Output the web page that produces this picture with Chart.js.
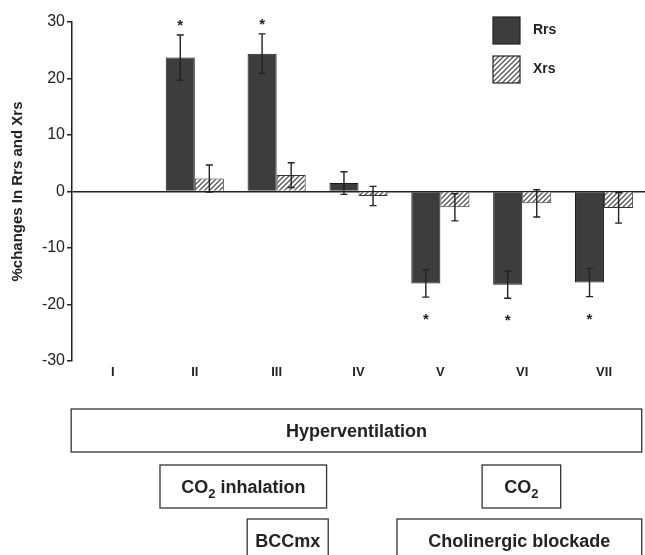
<!DOCTYPE html>
<html>
<head>
<meta charset="utf-8">
<script src="https://cdn.jsdelivr.net/npm/chart.js@4"></script>
<style>
  html, body { margin: 0; padding: 0; background: #fff; }
  #wrap { width: 645px; height: 555px; position: relative; }
</style>
</head>
<body>
<div id="wrap"><canvas id="chart" width="645" height="555"></canvas></div>
<script>
// conditions and values (% change)
const conditions = ['I', 'II', 'III', 'IV', 'V', 'VI', 'VII'];
const rrsValues = [0, 23.7, 24.4, 1.5, -16.3, -16.5, -16.1];
const rrsErrors = [0, 4.0, 3.5, 2.0, 2.4, 2.4, 2.5];
const xrsValues = [0, 2.3, 2.9, -0.8, -2.8, -2.1, -2.9];
const xrsErrors = [0, 2.4, 2.2, 1.7, 2.4, 2.4, 2.7];
const rrsSignificant = [false, true, true, false, true, true, true];
const yTicks = [-30, -20, -10, 0, 10, 20, 30];

// protocol boxes under the axis: label parts, start/end in category units, row
const protocolBoxes = [
    { parts: [['Hyperventilation']], from: -0.51, to: 6.46, row: 0 },
    { parts: [['CO'], ['2', 'sub'], [' inhalation']], from: 0.575, to: 2.61, row: 1 },
    { parts: [['CO'], ['2', 'sub']], from: 4.51, to: 5.47, row: 1 },
    { parts: [['BCCmx']], from: 1.64, to: 2.63, row: 2 },
    { parts: [['Cholinergic blockade']], from: 3.47, to: 6.46, row: 2 },
];

const FONT = "'Liberation Sans', Arial, sans-serif";
const INK = '#222';

const makeHatch = () => {
    const c = document.createElement('canvas');
    c.width = 5; c.height = 5;
    const g = c.getContext('2d');
    g.fillStyle = '#fff';
    g.fillRect(0, 0, 5, 5);
    g.strokeStyle = '#555';
    g.lineWidth = 1.3;
    g.beginPath();
    g.moveTo(-1, 6); g.lineTo(6, -1);
    g.moveTo(-1, 1); g.lineTo(1, -1);
    g.moveTo(4, 6); g.lineTo(6, 4);
    g.stroke();
    return g.createPattern(c, 'repeat');
};

const hatch = makeHatch();

const extrasPlugin = {
    id: 'extras',
    afterDatasetsDraw(chart) {
        const ctx = chart.ctx;
        const y = chart.scales.y;
        const errs = [rrsErrors, xrsErrors];
        ctx.save();
        ctx.strokeStyle = INK;
        ctx.lineWidth = 1.4;
        chart.data.datasets.forEach((ds, di) => {
            chart.getDatasetMeta(di).data.forEach((bar, i) => {
                const e = errs[di][i];
                if (!e) return;
                const v = ds.data[i];
                const top = y.getPixelForValue(v + e);
                const bot = y.getPixelForValue(v - e);
                ctx.beginPath();
                ctx.moveTo(bar.x, top); ctx.lineTo(bar.x, bot);
                ctx.moveTo(bar.x - 3.5, top); ctx.lineTo(bar.x + 3.5, top);
                ctx.moveTo(bar.x - 3.5, bot); ctx.lineTo(bar.x + 3.5, bot);
                ctx.stroke();
            });
        });
        // asterisks
        ctx.fillStyle = INK;
        ctx.font = 'bold 15px ' + FONT;
        ctx.textAlign = 'center';
        ctx.textBaseline = 'alphabetic';
        chart.getDatasetMeta(0).data.forEach((bar, i) => {
            if (!rrsSignificant[i]) return;
            const v = rrsValues[i];
            let cy;
            if (v >= 0) cy = y.getPixelForValue(v + rrsErrors[i]) - 13.5;
            else cy = y.getPixelForValue(v - rrsErrors[i]) + 18;
            ctx.fillText('*', bar.x, cy + 9);
        });
        ctx.restore();
    },
    afterDraw(chart) {
        const ctx = chart.ctx;
        const x = chart.scales.x;
        const area = chart.chartArea;
        ctx.save();
        // legend
        const lx = area.right - 152;
        const ly = area.top - 5;
        chart.data.datasets.forEach((ds, di) => {
            const by = ly + di * 39;
            ctx.fillStyle = ds.backgroundColor;
            ctx.fillRect(lx, by, 27, 27);
            ctx.strokeStyle = INK;
            ctx.lineWidth = 1.2;
            ctx.strokeRect(lx, by, 27, 27);
            ctx.fillStyle = INK;
            ctx.font = 'bold 14px ' + FONT;
            ctx.textAlign = 'left';
            ctx.textBaseline = 'middle';
            ctx.fillText(ds.label, lx + 40, by + 13);
        });
        // protocol boxes
        const rowTops = [409, 465, 519];
        const rowH = 43;
        protocolBoxes.forEach(b => {
            const x0 = x.getPixelForValue(b.from);
            const x1 = x.getPixelForValue(b.to);
            const t = rowTops[b.row];
            ctx.strokeStyle = '#333';
            ctx.lineWidth = 1.3;
            ctx.strokeRect(x0, t, x1 - x0, rowH);
            // label with subscript parts
            const main = 'bold 18px ' + FONT;
            const sub = 'bold 13px ' + FONT;
            let w = 0;
            b.parts.forEach(p => { ctx.font = p[1] ? sub : main; w += ctx.measureText(p[0]).width; });
            let tx = (x0 + x1) / 2 - w / 2;
            const base = t + 28;
            ctx.fillStyle = INK;
            ctx.textAlign = 'left';
            ctx.textBaseline = 'alphabetic';
            b.parts.forEach(p => {
                ctx.font = p[1] ? sub : main;
                ctx.fillText(p[0], tx, p[1] ? base + 5 : base);
                tx += ctx.measureText(p[0]).width;
            });
        });
        ctx.restore();
    }
};

const ctx = document.getElementById('chart');

const data = {
    labels: conditions,
    datasets: [{
        label: 'Rrs',
        data: rrsValues,
        backgroundColor: '#3d3d3d',
        borderColor: '#1a1a1a',
        borderWidth: 1,
    },
    {
        label: 'Xrs',
        data: xrsValues,
        backgroundColor: hatch,
        borderColor: '#333',
        borderWidth: 1,
    }]
};

const config = {
    type: 'bar',
    data: data,
    options: {
        responsive: false,
        animation: false,
        layout: { padding: { top: 22, right: 0, bottom: 174, left: 0 } },
        datasets: { bar: { categoryPercentage: 0.71, barPercentage: 1.0 } },
        plugins: {
            legend: { display: false },
            tooltip: { enabled: false }
        },
        scales: {
            x: {
                grid: { display: false, drawTicks: false },
                border: { display: false },
                ticks: {
                    color: INK,
                    padding: 4,
                    font: { size: 13, weight: 'bold', family: FONT }
                },
                afterFit: (s) => { s.height = 20; }
            },
            y: {
                min: -30,
                max: 30,
                afterBuildTicks: (s) => { s.ticks = yTicks.map(v => ({ value: v })); },
                grid: {
                    color: (c) => (c.tick && c.tick.value === 0 ? INK : 'rgba(0,0,0,0)'),
                    lineWidth: 1.5,
                    tickColor: INK,
                    tickLength: 5,
                },
                border: { display: true, color: INK, width: 1.5 },
                ticks: {
                    color: INK,
                    padding: 2,
                    font: { size: 16, family: FONT }
                },
                title: {
                    display: true,
                    text: '%changes In Rrs and Xrs',
                    color: INK,
                    padding: { top: 9, bottom: 0 },
                    font: { size: 15, weight: 'bold', family: FONT }
                },
                afterFit: (s) => { s.width = 72; }
            }
        }
    },
    plugins: [extrasPlugin]
};

new Chart(ctx, config);
</script>
</body>
</html>
